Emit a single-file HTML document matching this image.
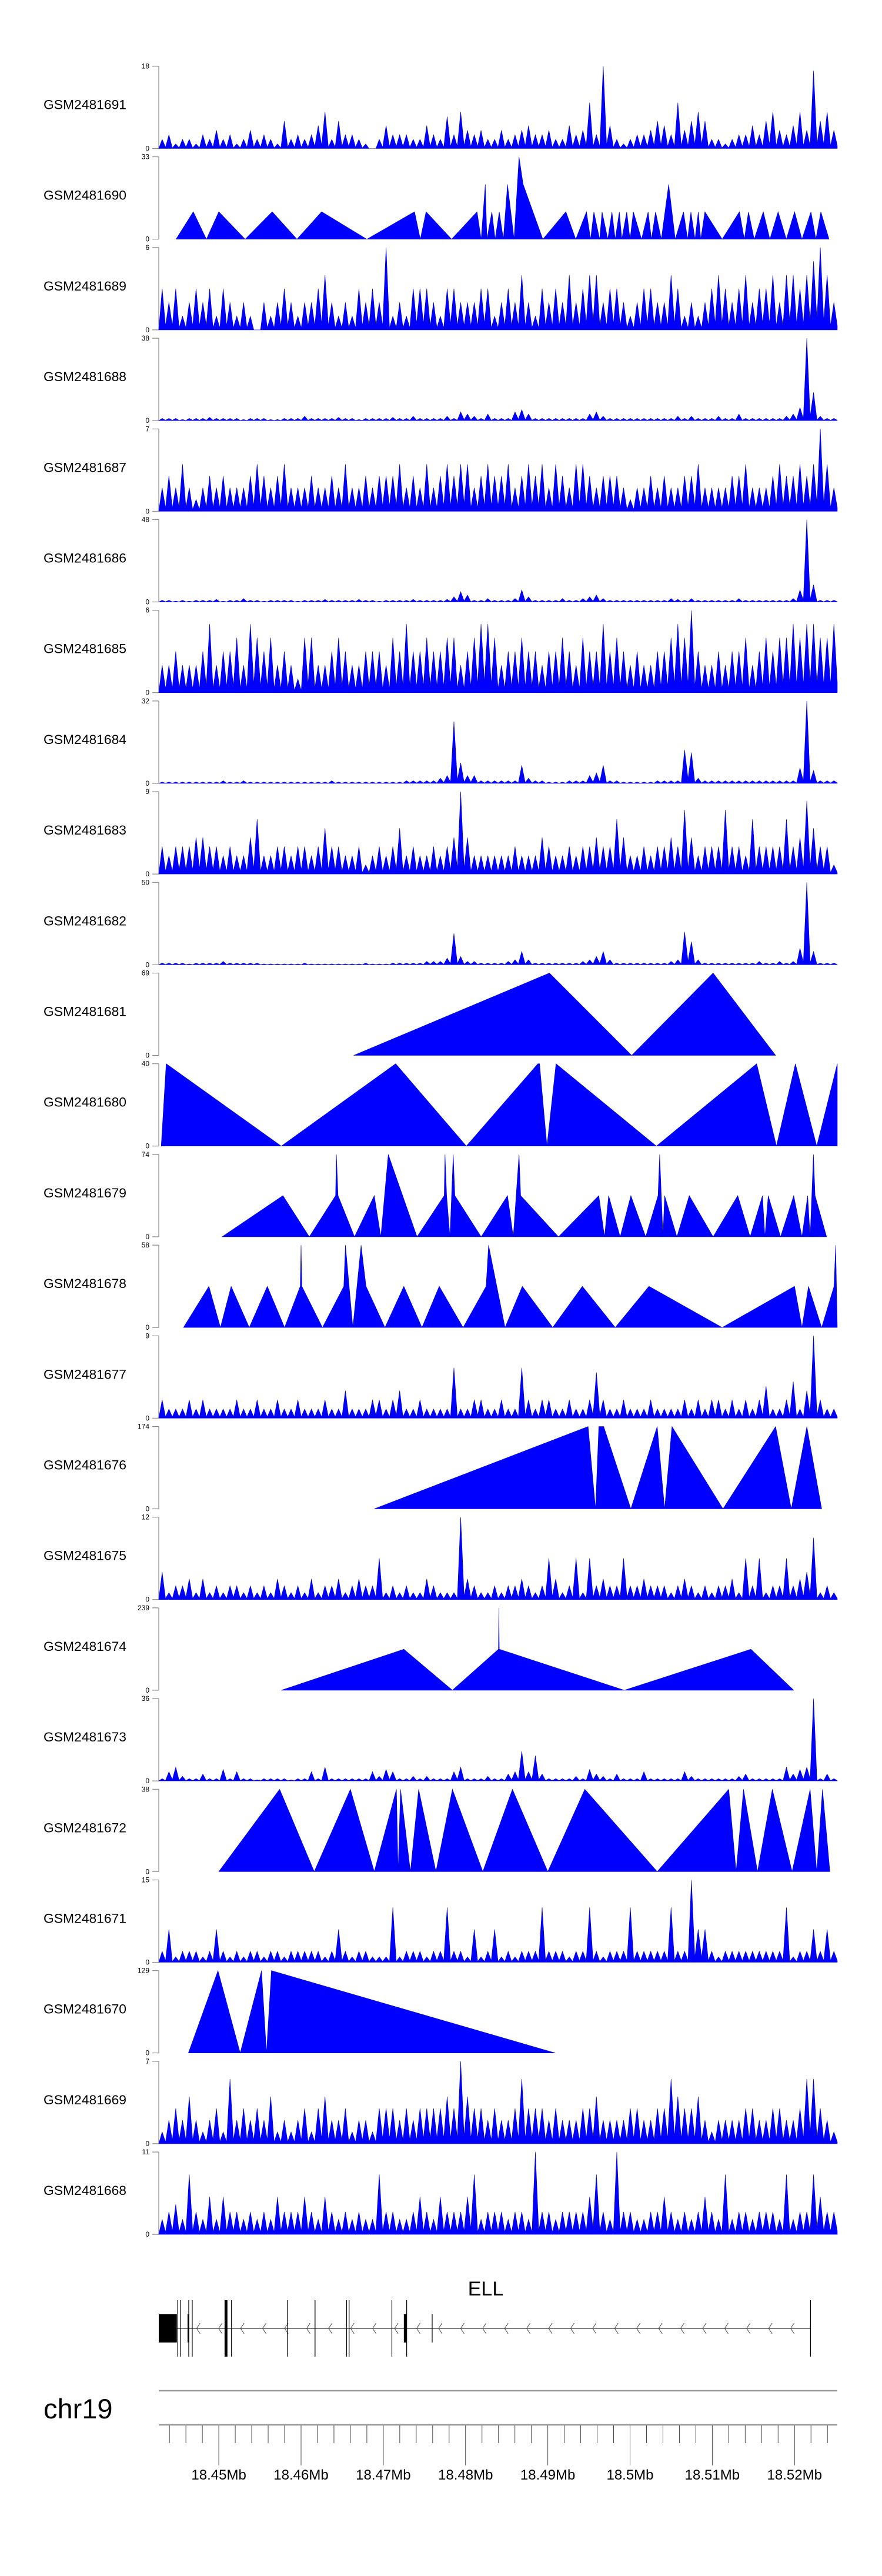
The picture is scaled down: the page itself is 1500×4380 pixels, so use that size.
<!DOCTYPE html>
<html><head><meta charset="utf-8"><style>
html,body{margin:0;padding:0;background:#fff;}
svg{display:block;font-family:"Liberation Sans",sans-serif;}
</style></head><body>
<svg id="chart" width="1500" height="4380" viewBox="0 0 1500 4380" xmlns="http://www.w3.org/2000/svg"></svg>
<script>
// ---- data (positions in kb from 18.4427 Mb; values = coverage) ----
const sampleNames = ["GSM2481691","GSM2481690","GSM2481689","GSM2481688","GSM2481687","GSM2481686","GSM2481685","GSM2481684","GSM2481683","GSM2481682","GSM2481681","GSM2481680","GSM2481679","GSM2481678","GSM2481677","GSM2481676","GSM2481675","GSM2481674","GSM2481673","GSM2481672","GSM2481671","GSM2481670","GSM2481669","GSM2481668"];
const maxValues = [18,33,6,38,7,48,6,32,9,50,69,40,74,58,9,174,12,239,36,38,15,129,7,11];

const d691 = [2,3,1,2,2,1,3,2,4,2,3,1,2,4,2,3,2,1,6,2,3,2,3,5,8,2,6,3,3,2,1,0,2,5,3,3,3,2,2,5,3,2,7,3,8,4,3,4,2,2,4,2,3,4,5,3,3,4,2,2,5,3,4,10,3,18,5,2,1,2,3,3,4,6,5,3,10,4,6,8,6,2,2,1,2,3,3,5,3,6,8,4,3,5,8,4,17,6,8,4];
const d689 = [3,2,3,1,2,3,2,3,1,3,2,1,2,1,0,2,1,2,3,2,1,2,2,3,4,2,1,2,1,3,2,3,2,6,1,2,1,3,3,3,2,1,3,3,2,2,2,3,3,1,2,3,2,4,2,1,3,2,3,2,4,2,3,4,4,2,3,3,2,1,2,3,3,2,2,4,3,1,2,1,2,3,4,3,2,3,4,2,3,3,4,2,4,4,3,4,5,6,4,2];
const d688 = [1,1,1,0.5,1,1,1,1.5,1,1,1,1,0.5,1,1,1,0.5,0.5,1,1,1,2,1,1,1,1,1.5,1,1,0.5,1,1,1,1,1.5,1,1,2,1,1,1,1,2,1,4,3,2,1,3,1,1,1,4,5,3,1,1,1,1,1,1,1,1,3,4,2,1,1,1,1,1,1,1,1,1,1,2,1,2,1,1,1,2,1,1,3,1,1,1,1,1,1,2,3,6,38,13,2,1,1];
const d687 = [2,3,2,4,2,1,2,3,2,3,2,2,2,3,4,3,2,3,4,2,2,2,3,2,2,3,2,4,2,2,3,2,3,3,3,4,2,3,2,4,2,3,4,3,4,4,2,3,4,3,3,4,2,3,4,3,4,2,4,3,2,4,4,3,2,3,3,3,2,1,2,2,3,2,3,2,2,3,3,4,2,2,2,2,3,3,4,2,2,2,3,4,3,3,4,3,4,7,4,2];
const d686 = [1,1,0.5,1,0.5,1,1,1,1.5,0.5,1,1,2,1,1,0.5,1,1,1,1,0.5,1,1,1,1.5,1,1,1,1,1.5,1,1,0.5,1,1,1,1,1.5,1,1,1,1,1.5,3,6,4,1,1,2,1,1,1,2,7,3,1,1,1,1,2,1,1,2,3,4,2,1,1,1,1,1,1,1,1,1,2,1.5,1,2,1,1,1,1,1,1,2,1,1,1,1,1,1,1,2,7,48,10,1,1,1];
const d685 = [2,2,3,2,2,2,3,5,2,3,3,4,2,5,4,3,4,2,3,2,1,4,4,2,2,3,4,3,2,2,3,3,3,2,4,3,5,3,3,4,3,3,4,4,2,3,4,5,5,4,2,3,3,4,3,3,2,3,3,4,3,2,4,3,3,5,3,4,3,2,3,2,2,3,3,4,5,4,6,3,2,2,3,2,3,3,4,2,3,4,3,4,4,5,4,5,5,4,4,5];
const d684 = [0.5,0.5,0.5,0.5,0.5,0.5,0.5,0.5,0.5,1,0.5,0.5,1,0.5,0.5,0.5,0.5,0.5,0.5,0.5,0.5,0.5,0.5,0.5,0.5,1,0.5,0.5,0.5,0.5,0.5,0.5,0.5,0.5,0.5,0.5,1,1,1,1,1,2,3,24,8,3,3,1,1,1,1,1,1,7,2,1,1,0.5,0.5,0.5,1,1,1,3,4,7,1,1,0.5,0.5,0.5,0.5,0.5,1,1,1,1,13,12,2,1,1,1,1,1,1,1,1,1,1,1,1,1,1,6,32,5,1,1,1];
const d683 = [3,2,3,3,3,4,4,3,3,2,3,2,2,4,6,2,2,3,3,2,3,3,2,3,5,3,3,2,2,3,1,2,3,2,3,5,2,3,2,2,3,2,3,4,9,4,2,2,2,2,2,2,3,2,2,2,4,3,2,2,3,2,3,3,4,3,3,6,4,2,2,3,2,3,3,4,3,7,4,2,3,3,3,7,3,3,2,6,3,3,3,3,6,3,4,8,5,3,3,1];
const d682 = [1,1,1,1,0.5,1,1,1,1,2,1,1,1,1,1,0.5,0.5,0.5,0.5,0.5,0.5,1,0.5,0.5,0.5,0.5,0.5,0.5,0.5,0.5,1,0.5,0.5,0.5,1,1,1,1,1,2,2,2,4,19,5,2,2,1,1,1,1,2,3,8,3,1,1,1,1,1,1,1,2,3,5,8,3,1,1,1,1,1,1,1,1,2,3,20,14,3,1,1,1,1,1,1,1,1,2,1,1,2,1,2,10,50,8,1,1,1];
const d677 = [2,1,1,1,2,1,2,1,1,1,1,2,1,1,2,1,1,2,1,1,2,1,1,1,2,1,1,3,1,1,1,2,2,1,2,3,1,1,2,1,1,1,1,5.5,1,1,2,2,1,1,2,1,1,5.5,2,1,2,2,1,1,2,1,1,2,5,2,1,1,2,1,1,1,2,1,1,1,1,2,1,2,1,2,2,1,2,1,2,1,2,3.5,1,1,2,4,1,3,9,2,1,1];
const d675 = [4,1,2,2,3,1,3,1,2,1,2,2,1,2,1,2,1,3,2,1,2,1,3,1,2,2,3,1,2,3,2,2,6,1,2,1,2,1,1,3,2,1,1,1,12,3,2,1,1,2,1,2,2,3,2,1,2,6,3,1,2,6,1,6,2,3,2,2,6,2,2,3,2,2,2,1,2,3,2,1,2,1,2,2,3,1,6,2,6,1,2,2,6,2,3,4,9,1,2,1];
const d673 = [1,4,6,2,1,1,3,1,1,5,1,4,1,1,0.5,1,1,1,1,0.5,1,1,4,1,6,1,1,1,1,1,1,4,2,5,4,1,1,2,1,2,1,1,1,4,6,1,1,1,2,1,1,3,4,13,4,11,3,1,1,1,1,2,1,5,3,2,1,3,1,1,1,4,1,1,1,1,1,4,2,1,1,1,1,1,1,2,3,1,1,1,1,1,6,3,5,6,36,1,3,1];
const d671 = [2,6,1,2,2,2,1,2,6,2,1,2,1,2,2,1,2,2,1,2,2,2,2,2,1,2,6,2,1,2,2,1,1,1,10,1,2,2,2,1,2,2,10,2,2,1,6,1,2,6,1,2,1,2,2,2,10,2,2,2,1,2,2,10,2,1,2,2,2,10,2,2,2,2,2,10,2,2,15,6,6,2,1,2,2,2,2,2,2,2,2,2,10,1,2,2,6,2,6,2];
const d669 = [1,2,3,2,4,2,1,2,3,1,5.5,2,3,2,3,2,4,1,2,1,2,3,1,3,4,2,2,3,1,2,2,1,3,3,3,2,3,2,3,3,3,3,4,3,7,4,3,3,2,3,2,2,3,5.5,3,3,3,2,3,2,2,2,3,3,4,2,2,2,2,3,3,2,2,3,3,5.5,4,3,3,4,2,1,2,2,2,2,3,3,2,2,3,3,2,2,3,5.5,5.5,3,2,1];
const d668 = [2,3,4,2,8,3,2,5,2,5,3,3,2,3,2,3,2,5,3,3,3,5,3,2,5,3,2,3,2,3,2,2,8,3,3,2,2,3,5,3,2,5,3,3,3,5,8,2,3,3,3,2,3,3,2,11,3,3,2,3,3,3,3,5,8,3,2,11,3,3,2,2,3,3,5,3,2,3,2,3,5,3,2,8,2,3,3,2,3,3,3,2,8,2,3,3,8,5,3,3];

// sparse tracks: vertex positions (kb) and values
const p690 = [2.1,4.2,5.8,7.3,10.5,13.8,16.8,19.8,25.3,31.1,31.8,32.5,35.6,38.7,39.2,39.7,39.9,40.5,40.9,41.4,41.9,42.4,43.2,43.8,44.3,46.7,49.5,50.7,52.0,52.5,52.9,53.6,53.9,54.6,55.1,55.5,56.0,56.3,56.9,57.3,57.7,58.7,59.5,59.9,60.4,61.1,62.0,62.8,63.8,64.3,64.7,65.2,65.6,65.9,66.4,68.5,70.6,71.2,71.7,72.4,73.5,74.3,75.3,76.3,77.3,78.2,79.3,79.9,80.5,81.5];
const v690 = [0,11,0,11,0,11,0,11,0,11,0,11,0,11,0,22,0,11,0,11,0,22,0,33,22,0,11,0,11,0,11,0,11,0,11,0,11,0,11,0,11,0,11,0,11,0,22,0,11,0,11,0,11,0,11,0,11,0,11,0,11,0,11,0,11,0,11,0,11,0];
const p681 = [23.7,47.5,57.5,67.4,75.0];
const v681 = [0,69,0,69,0];
const p680 = [0.3,0.9,14.9,28.8,37.4,46.1,46.3,47.2,48.3,60.5,72.7,75.1,77.4,80.0,82.5];
const v680 = [0,40,0,40,0,40,40,0,40,0,40,0,40,0,40];
const p679 = [7.7,15.1,18.3,21.5,21.6,21.8,23.8,26.2,27.0,27.9,31.4,34.7,34.8,35.0,35.4,35.8,36.0,39.2,42.4,43.1,43.8,44.0,48.6,53.5,54.2,54.7,56.1,57.4,59.2,60.7,60.9,61.1,61.3,61.5,63.0,64.5,67.4,70.4,71.9,73.4,73.7,74.1,75.6,77.2,78.2,78.9,79.2,79.6,79.8,81.2];
const v679 = [0,37,0,37,74,37,0,37,0,74,0,37,74,37,0,74,37,0,37,0,74,37,0,37,0,37,0,37,0,37,74,37,0,37,0,37,0,37,0,37,0,37,0,37,0,37,0,74,37,0];
const p678 = [3.0,6.1,7.5,8.8,11.0,13.2,15.3,17.2,17.3,17.4,19.9,22.5,22.7,23.6,24.6,25.2,27.5,29.8,32.0,34.1,37.0,39.8,40.1,42.1,44.2,47.9,51.5,55.5,59.6,68.5,77.3,78.2,79.0,80.6,82.1,82.3,82.5];
const v678 = [0,29,0,29,0,29,0,29,58,29,0,29,58,0,58,29,0,29,0,29,0,29,58,0,29,0,29,0,29,0,29,0,29,0,29,58,0];
const p676 = [26.2,52.2,53.1,53.5,54.1,57.4,60.6,61.5,62.4,68.6,75.0,76.9,78.8,80.6];
const v676 = [0,174,0,174,174,0,174,0,174,0,174,0,174,0];
const p674 = [14.9,29.8,35.7,41.3,41.35,41.4,56.6,72.0,77.2];
const v674 = [0,119,0,119,239,119,0,119,0];
const p672 = [7.3,14.7,18.9,23.3,26.2,28.9,29.1,29.4,30.6,31.6,33.7,35.7,39.4,43.0,47.3,51.8,60.6,69.3,70.2,71.1,72.8,74.6,77.0,79.2,80.0,80.7,81.6];
const v672 = [0,38,0,38,0,38,0,38,0,38,0,38,0,38,0,38,0,38,0,38,0,38,0,38,0,38,0];
const p670 = [3.6,7.2,9.9,12.5,13.1,13.7,48.2];
const v670 = [0,129,0,129,0,129,0];

const trackKinds = ["d","p","d","d","d","d","d","d","d","d","p","p","p","p","d","p","d","p","d","p","d","p","d","d"];
const denseData = {GSM2481691:d691,GSM2481689:d689,GSM2481688:d688,GSM2481687:d687,GSM2481686:d686,GSM2481685:d685,GSM2481684:d684,GSM2481683:d683,GSM2481682:d682,GSM2481677:d677,GSM2481675:d675,GSM2481673:d673,GSM2481671:d671,GSM2481669:d669,GSM2481668:d668};
const sparseData = {GSM2481690:[p690,v690],GSM2481681:[p681,v681],GSM2481680:[p680,v680],GSM2481679:[p679,v679],GSM2481678:[p678,v678],GSM2481676:[p676,v676],GSM2481674:[p674,v674],GSM2481672:[p672,v672],GSM2481670:[p670,v670]};

// gene model (kb)
const exonStart = [0,2.26,2.62,3.5,3.6,4.03,8.0,8.8,15.6,18.95,22.8,23.1,28.3,29.8,30.1,33.2,79.2];
const exonEnd   = [2.2,2.3,2.66,3.7,3.64,4.07,8.35,8.84,15.64,19.05,22.84,23.14,28.34,30.1,30.14,33.24,79.28];
const exonKind  = [1,0,0,1,0,0,0,0,0,0,0,0,0,1,0,1,0];
const axisLabels = ["18.45Mb","18.46Mb","18.47Mb","18.48Mb","18.49Mb","18.5Mb","18.51Mb","18.52Mb"];
const axisMajorMb = [18.45,18.46,18.47,18.48,18.49,18.50,18.51,18.52];

// ---- layout ----
const NS = "http://www.w3.org/2000/svg";
const svg = document.getElementById("chart");
const X0 = 270, X1 = 1424, SPAN = 82.5, START_MB = 18.4427;
const TOP0 = 112.5, PITCH = 154.2, H = 140;
function xs(kb){ return X0 + kb / SPAN * (X1 - X0); }
function xmb(mb){ return xs((mb - START_MB) * 1000); }
function mk(tag, attrs, parent){ const e = document.createElementNS(NS, tag); for (const k in attrs) e.setAttribute(k, attrs[k]); (parent||svg).appendChild(e); return e; }

sampleNames.forEach((name, k) => {
  const top = TOP0 + k * PITCH, base = top + H, mx = maxValues[k];
  const ys = v => base - v / mx * H;
  const g = mk("g", {});
  
  
  const lab = mk("text", {x: 74, y: top + 73, "font-size": 22, fill: "#000", textLength: 141, lengthAdjust: "spacingAndGlyphs"}, g);
  lab.textContent = name;
  
  
  const ax = mk("path", {d: `M${X0},${top}V${base}M${X0-11},${top}H${X0}M${X0-11},${base}H${X0}`, stroke: "#888", "stroke-width": 1.2, fill: "none"}, g);
  
  
  const t1 = mk("text", {x: X0-16, y: top + 4, "font-size": 12, "text-anchor": "end", fill: "#000"}, g);
  t1.textContent = String(mx);
  
  
  const t0 = mk("text", {x: X0-16, y: base + 4, "font-size": 12, "text-anchor": "end", fill: "#000"}, g);
  t0.textContent = "0";
  
  
  let pts = [];
  if (trackKinds[k] === "d") {
    const arr = denseData[name], bw = SPAN / arr.length;
    pts.push([xs(0), base]);
    arr.forEach((v, i) => {
      const nv = i + 1 < arr.length ? arr[i+1] : v;
      pts.push([xs((i + 0.5) * bw), ys(v)]);
      pts.push([xs((i + 1) * bw), ys(Math.min(v, nv) * 0.15)]);
    });
    pts.push([xs(SPAN), base]);
  } else {
    const [p, v] = sparseData[name];
    pts.push([xs(p[0]), base]);
    p.forEach((q, i) => pts.push([xs(q), ys(v[i])]));
    pts.push([xs(p[p.length-1]), base]);
  }
  const poly = mk("polygon", {points: pts.map(a => a[0].toFixed(1) + "," + a[1].toFixed(1)).join(" "), fill: "#0000ff", stroke: "#0000cc", "stroke-width": 0.6}, g);
  
  
});

// gene track
const gg = mk("g", {});


const gl = mk("text", {x: 826, y: 3903, "font-size": 34, "text-anchor": "middle", fill: "#000"}, gg);
gl.textContent = "ELL";


const intron = mk("line", {x1: xs(2.2), x2: xs(79.2), y1: 3959, y2: 3959, stroke: "#333", "stroke-width": 1.2}, gg);


for (let kb = 4.6; kb < 78.5; kb += 2.675) {
  const cx = xs(kb);
  const ch = mk("path", {d: `M${cx+6},${3950}L${cx},${3959}L${cx+6},${3968}`, stroke: "#444", "stroke-width": 1, fill: "none"}, gg);
  
  
}
exonStart.forEach((s, i) => {
  const tall = exonKind[i] === 0;
  const y0 = tall ? 3911 : 3935, y1 = tall ? 4007 : 3983;
  const x0 = xs(s), w = Math.max(1.2, xs(exonEnd[i]) - x0);
  const r = mk("rect", {x: x0, y: y0, width: w, height: y1 - y0, fill: "#000"}, gg);
  
  
});

// genome axis
const ag = mk("g", {});


const chr = mk("text", {x: 74, y: 4112, "font-size": 47, fill: "#000"}, ag);
chr.textContent = "chr19";


const gline = mk("line", {x1: X0, x2: X1, y1: 4065, y2: 4065, stroke: "#999", "stroke-width": 2.5}, ag);


const aline = mk("line", {x1: X0, x2: X1, y1: 4123, y2: 4123, stroke: "#999", "stroke-width": 2.5}, ag);


for (let m = 0; m <= 40; m++) {
  const mb = 18.444 + m * 0.002;
  const major = m % 5 === 3;
  const tk = mk("line", {x1: xmb(mb), x2: xmb(mb), y1: 4124, y2: major ? 4192 : 4154, stroke: "#444", "stroke-width": 1}, ag);
  
  
}
axisLabels.forEach((t, i) => {
  const tx = mk("text", {x: xmb(axisMajorMb[i]), y: 4216, "font-size": 24, "text-anchor": "middle", fill: "#000"}, ag);
  tx.textContent = t;
  
  
});
</script>
</body></html>
